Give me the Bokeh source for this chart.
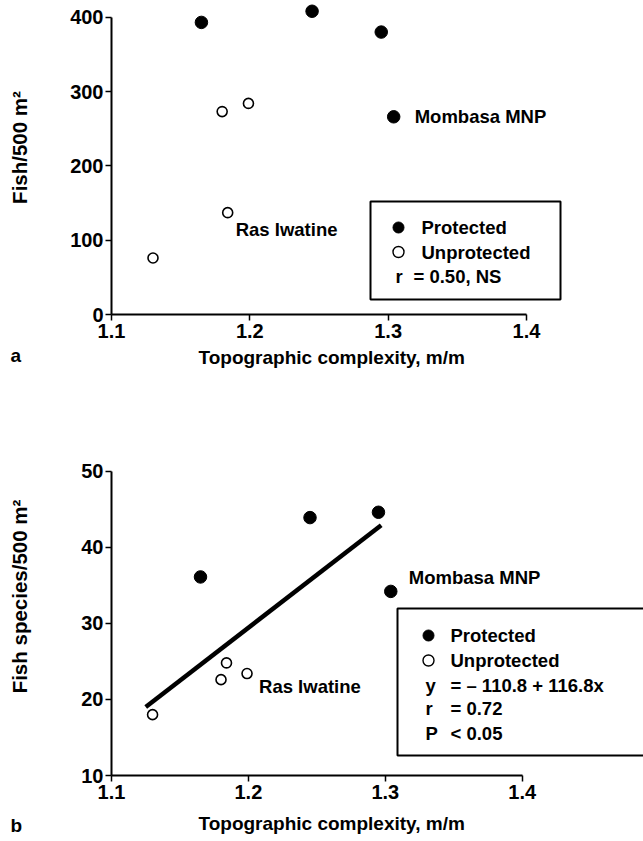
import math
from bokeh.plotting import figure
from bokeh.layouts import column
from bokeh.models import Label, Range1d, FixedTicker, PrintfTickFormatter
from bokeh.core.properties import value
from bokeh.embed import file_html
from bokeh.resources import INLINE

# ---------------- data ----------------
complexity_protected = [1.165, 1.245, 1.295, 1.304]
complexity_unprotected = [1.130, 1.180, 1.184, 1.199]
fish_density_protected = [393, 408, 380, 266]
fish_density_unprotected = [76, 273, 137, 284]
species_protected = [36.1, 43.9, 44.6, 34.2]
species_unprotected = [18.0, 22.6, 24.8, 23.4]
fit_x = [1.125, 1.297]
fit_y = [19.0, 42.9]
x_ticks = [1.1, 1.2, 1.3, 1.4]
density_ticks = [0, 100, 200, 300, 400]
species_ticks = [10, 20, 30, 40, 50]
x_title = "Topographic complexity, m/m"
legend_a = ["Protected", "Unprotected", "r", "= 0.50, NS"]
legend_b = ["Protected", "Unprotected", "y", "= \u2013 110.8 + 116.8x", "r", "= 0.72", "P", "< 0.05"]

FONT = "Liberation Sans"
W = 643
AXIS_PX = 111  # pixel column of the y axis


class Panel:
    """Frame covers the whole canvas; axes are drawn at fixed locations inside it."""

    def __init__(self, h, axis_py, x_scale, y_scale, y0, yticks):
        self.h, self.axis_py = h, axis_py
        self.x_scale, self.y_scale, self.y0 = x_scale, y_scale, y0
        x0 = x_ticks[0]
        xr = Range1d(x0 - AXIS_PX / x_scale, x0 + (W - AXIS_PX) / x_scale)
        yr = Range1d(y0 - (h - axis_py) / y_scale, y0 + axis_py / y_scale)
        p = figure(width=W, height=h, x_range=xr, y_range=yr, output_backend="svg",
                   toolbar_location=None, min_border=0)
        p.outline_line_color = None
        p.grid.visible = False
        p.background_fill_color = "white"
        p.border_fill_color = "white"
        for ax in (p.xaxis[0], p.yaxis[0]):
            ax.axis_line_width = 2
            ax.axis_line_color = "black"
            ax.major_tick_line_width = 1.5
            ax.major_tick_line_color = "black"
            ax.major_tick_in = 0
            ax.major_tick_out = 6
            ax.minor_tick_line_color = None
            ax.major_label_text_font = FONT
            ax.major_label_text_font_style = "bold"
            ax.major_label_text_font_size = "20px"
            ax.major_label_text_color = "black"
        xa, ya = p.xaxis[0], p.yaxis[0]
        xa.fixed_location = y0
        ya.fixed_location = x0
        xa.ticker = FixedTicker(ticks=x_ticks)
        xa.bounds = (x_ticks[0], x_ticks[-1])
        xa.formatter = PrintfTickFormatter(format="%.1f")
        xa.major_label_standoff = 3
        ya.ticker = FixedTicker(ticks=yticks)
        ya.bounds = (yticks[0], yticks[-1])
        ya.formatter = PrintfTickFormatter(format="%d")
        ya.major_label_standoff = 2
        self.p = p

    def X(self, px):
        return x_ticks[0] + (px - AXIS_PX) / self.x_scale

    def Y(self, py):
        return self.y0 + (self.axis_py - py) / self.y_scale

    def label(self, text, px, py, size="19px", align="left", angle=0.0):
        self.p.add_layout(Label(x=self.X(px), y=self.Y(py), text=text, text_font=FONT,
                                text_font_style="bold", text_font_size=size,
                                text_color="black", text_align=align,
                                text_baseline="middle", angle=angle))


def points(p, xp, yp, xu, yu):
    p.scatter(xp, yp, size=12.5, fill_color="black", line_color="black")
    p.scatter(xu, yu, size=10, fill_color="white", line_color="black", line_width=1.6)


def site_label(p, x, y, text, dx, dy):
    p.text([x], [y], text=[text], x_offset=dx, y_offset=dy,
           text_font=value(FONT), text_font_style="bold", text_font_size="18.5px",
           text_color="black", text_baseline="middle", text_align="left")


LEG = "18.5px"
YT = "20.5px"

# ---------------- panel a ----------------
A = Panel(420, 314, 1383.3, 0.74325, density_ticks[0], density_ticks)
pa = A.p
pa.quad(left=[A.X(370)], right=[A.X(560)], top=[A.Y(201)], bottom=[A.Y(299)],
        fill_color="white", line_color="black", line_width=2)
points(pa, complexity_protected, fish_density_protected,
       complexity_unprotected, fish_density_unprotected)
site_label(pa, complexity_protected[3], fish_density_protected[3], "Mombasa MNP", 21, 0)
site_label(pa, complexity_unprotected[2], fish_density_unprotected[2], "Ras Iwatine", 8, 17)
pa.scatter([A.X(398)], [A.Y(227)], size=11, fill_color="black", line_color="black")
pa.scatter([A.X(398)], [A.Y(251.5)], size=11, fill_color="white", line_color="black", line_width=1.4)
A.label(legend_a[0], 421, 227, LEG)
A.label(legend_a[1], 421, 251.5, LEG)
A.label(legend_a[2], 395, 276, LEG)
A.label(legend_a[3], 413, 276, LEG)
A.label("Fish/500 m\u00b2", 18.5, 147, YT, "center", math.pi / 2)
A.label(x_title, 198, 357)
A.label("a", 10, 355)

# ---------------- panel b ----------------
B = Panel(421, 355, 1369.0, 7.6075, species_ticks[0], species_ticks)
pb = B.p
pb.quad(left=[B.X(397)], right=[B.X(700)], top=[B.Y(188)], bottom=[B.Y(335)],
        fill_color="white", line_color="black", line_width=2)
pb.line(fit_x, fit_y, line_color="black", line_width=4.5)
points(pb, complexity_protected, species_protected,
       complexity_unprotected, species_unprotected)
site_label(pb, complexity_protected[3], species_protected[3], "Mombasa MNP", 18, -14)
site_label(pb, complexity_unprotected[3], species_unprotected[3], "Ras Iwatine", 12, 13)
pb.scatter([B.X(428)], [B.Y(215)], size=11, fill_color="black", line_color="black")
pb.scatter([B.X(428)], [B.Y(240)], size=11, fill_color="white", line_color="black", line_width=1.4)
rows = [215, 240, 265, 288, 313]
B.label(legend_b[0], 450, rows[0], LEG)
B.label(legend_b[1], 450, rows[1], LEG)
for i in range(3):
    B.label(legend_b[2 + 2 * i], 425, rows[2 + i], LEG)
    B.label(legend_b[3 + 2 * i], 450, rows[2 + i], LEG)
B.label("Fish species/500 m\u00b2", 18.5, 176, YT, "center", math.pi / 2)
B.label(x_title, 198, 403)
B.label("b", 10, 405)

layout = column(pa, pb, spacing=0)
open("out.html", "w").write(file_html(layout, INLINE))
